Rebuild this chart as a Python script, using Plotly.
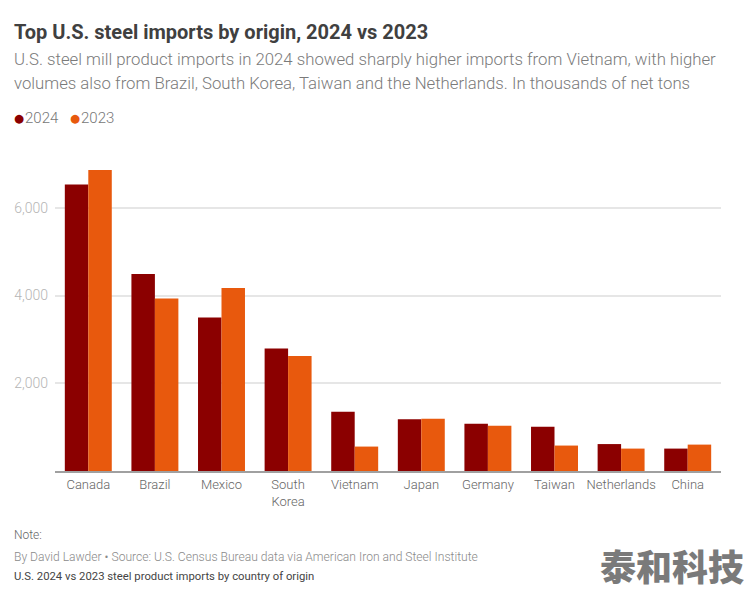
import plotly.graph_objects as go

categories = ["Canada", "Brazil", "Mexico", "South<br>Korea", "Vietnam", "Japan", "Germany", "Taiwan", "Netherlands", "China"]
imports_2024 = [6534, 4490, 3500, 2795, 1352, 1180, 1080, 1011, 614, 511]
imports_2023 = [6864, 3932, 4170, 2625, 557, 1193, 1034, 580, 511, 602]

FONT = "Roboto"
C_2024 = "#8b0000"
C_2023 = "#e8590d"

# the page body has an 8px margin, so the figure is 8px smaller and everything shifts by 8
OFFSET = 8
FIG_W = 752 - OFFSET
FIG_H = 592 - OFFSET
M_L = 55 - OFFSET
M_R = 31
M_T = 163.5 - OFFSET
M_B = 120.5

fig = go.Figure()
fig.add_trace(go.Bar(x=categories, y=imports_2024, name="2024", marker=dict(color=C_2024, line_width=0)))
fig.add_trace(go.Bar(x=categories, y=imports_2023, name="2023", marker=dict(color=C_2023, line_width=0)))

fig.update_layout(
    width=FIG_W, height=FIG_H,
    barmode="group", bargap=0.295, bargroupgap=0,
    showlegend=False,
    paper_bgcolor="white", plot_bgcolor="white",
    margin=dict(l=M_L, r=M_R, t=M_T, b=M_B, autoexpand=False),
    font=dict(family=FONT, color="#666666", size=13),
)
fig.update_xaxes(
    type="category", showgrid=False, showline=True, linecolor="#a0a0a0", linewidth=2,
    ticks="", ticklabelstandoff=0, tickangle=0, tickfont=dict(size=13, color="#666666", weight=300),
)
fig.update_yaxes(
    range=[0, 7000], tickvals=[2000, 4000, 6000], tickformat=",",
    showgrid=True, gridcolor="#e6e6e6", gridwidth=1.5, zeroline=False, showline=False,
    ticks="", ticklabelstandoff=6, tickfont=dict(size=14, color="#b5b5b5", weight=300),
)

# annotations are given in page pixels, converted to paper coords
PLOT_W = FIG_W - M_L - M_R
PLOT_H = FIG_H - M_T - M_B
def px(x):
    return (x - 55) / PLOT_W
def py(y):
    return (471.5 - y) / PLOT_H

def note(text, x, y, size, color, weight=400, family=FONT):
    fig.add_annotation(text=text, x=px(x), y=py(y), xref="paper", yref="paper", xanchor="left", yanchor="middle",
                       xshift=-2, showarrow=False, align="left", font=dict(family=family, size=size, color=color, weight=weight))

note("Top U.S. steel imports by origin, 2024 vs 2023", 14, 31, 20, "#404040", 700)
note("U.S. steel mill product imports in 2024 showed sharply higher imports from Vietnam, with higher", 14, 58, 16.75, "#7a7a7a", 300)
note("volumes also from Brazil, South Korea, Taiwan and the Netherlands. In thousands of net tons", 14, 82, 16.75, "#7a7a7a", 300)
note("●", 14, 117, 11.5, C_2024, 400, "DejaVu Sans")
note("2024", 25, 117, 15, "#777777", 300)
note("●", 70, 117, 11.5, C_2023, 400, "DejaVu Sans")
note("2023", 81, 117, 15, "#777777", 300)
note("Note:", 14, 536, 12, "#666666", 300)
note("By David Lawder • Source: U.S. Census Bureau data via American Iron and Steel Institute", 14, 558, 12.1, "#8a8a8a", 300)
note("U.S. 2024 vs 2023 steel product imports by country of origin", 14, 577, 11.3, "#444444", 400)
note("泰和科技", 600, 566, 36, "#7a7a7a", 900, "Noto Sans CJK SC")

fig.write_html("out.html")
